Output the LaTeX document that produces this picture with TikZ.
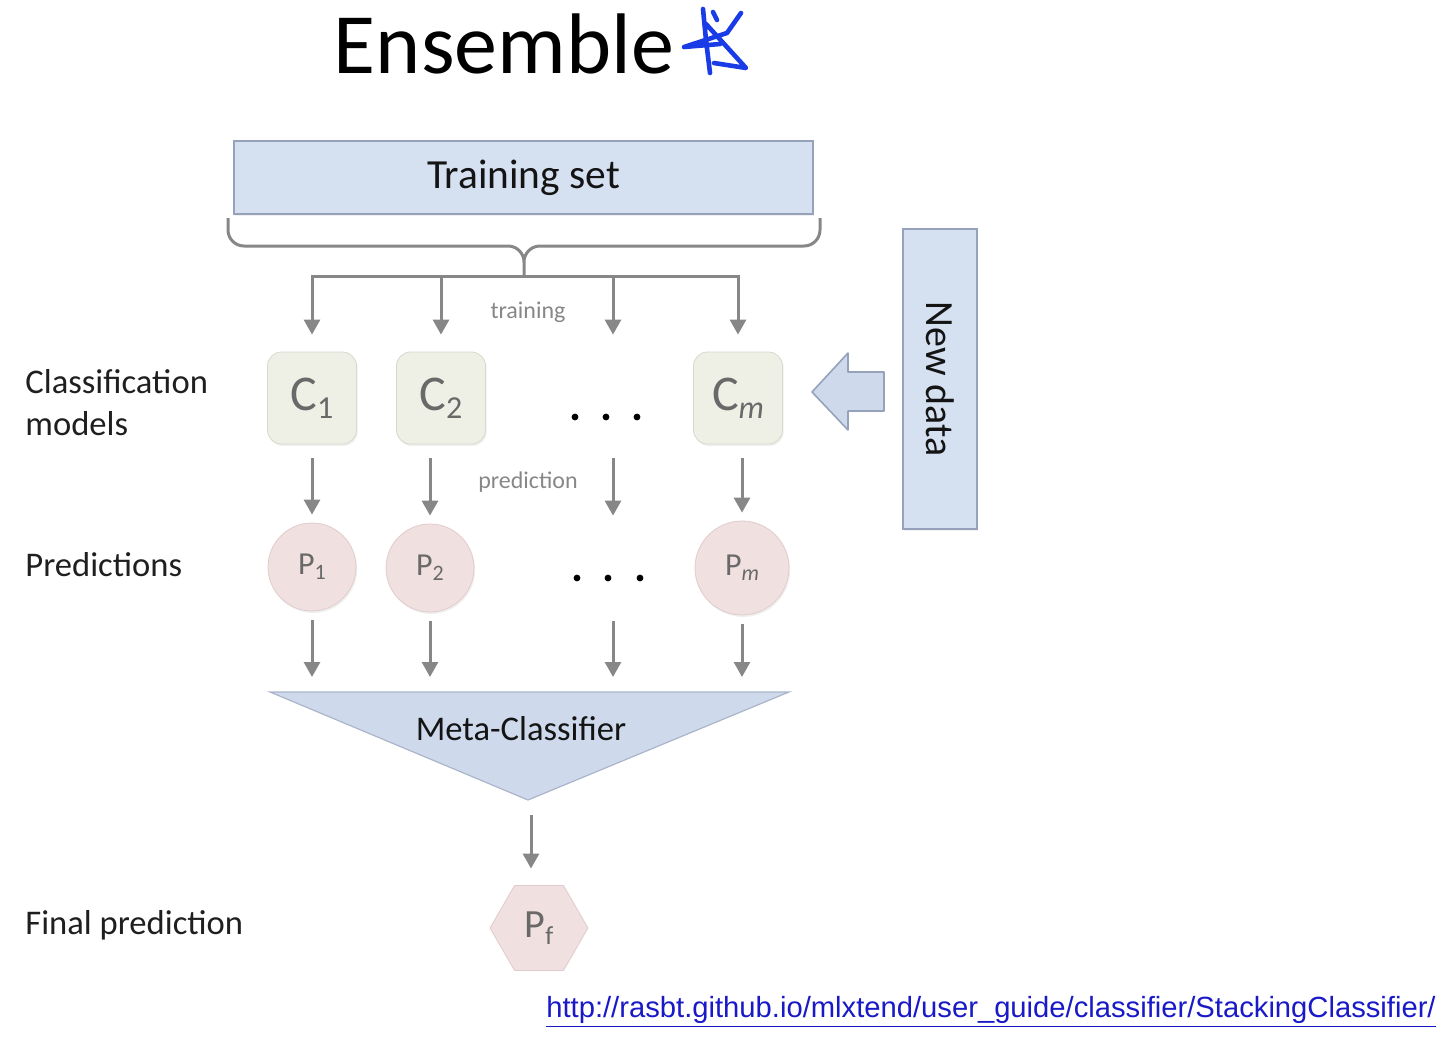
\documentclass[tikz,border=0pt]{standalone}
\usepackage{fontspec}
\setmainfont{Carlito}
\newfontfamily\urlfont{Liberation Sans}
\usetikzlibrary{arrows.meta,shapes.geometric,shadows}
\definecolor{setblue}{RGB}{213,224,241}
\definecolor{setedge}{RGB}{150,162,188}
\definecolor{metafill}{RGB}{206,218,236}
\definecolor{modelfill}{RGB}{238,240,229}
\definecolor{modeledge}{RGB}{214,217,204}
\definecolor{predfill}{RGB}{241,224,224}
\definecolor{prededge}{RGB}{224,204,204}
\definecolor{flowgray}{RGB}{135,135,135}
\definecolor{lettergray}{RGB}{105,105,105}
\definecolor{scribble}{RGB}{25,60,230}
\definecolor{linkblue}{RGB}{25,25,200}
\newcommand{\lowidx}[2]{\raisebox{-0.35ex}{\fontsize{#1}{#1}\selectfont #2}}
\tikzset{
  flow/.style={draw=flowgray, line width=1.5pt},
  arr/.style={flow, -{Triangle[width=8pt,length=7.5pt]}},
  bluebox/.style={draw=setedge, fill=setblue, line width=0.8pt, inner sep=0pt, text=black!92,
    drop shadow={opacity=0.12, shadow xshift=0.6pt, shadow yshift=-0.8pt}},
  model/.style={draw=modeledge, fill=modelfill, rounded corners=7pt, minimum width=44.5pt,
    minimum height=46pt, inner sep=0pt, text=lettergray, font=\fontsize{25}{30}\selectfont,
    drop shadow={opacity=0.12, shadow xshift=0.6pt, shadow yshift=-1pt}},
  slot/.style={minimum width=44.5pt, minimum height=46pt, inner sep=0pt},
  pred/.style={circle, draw=prededge, fill=predfill, minimum size=44pt, inner sep=0pt,
    text=lettergray, font=\fontsize{16}{19}\selectfont,
    drop shadow={opacity=0.12, shadow xshift=0.6pt, shadow yshift=-1pt}},
  pslot/.style={circle, minimum size=44pt, inner sep=0pt},
  rowlabel/.style={anchor=west, align=left, inner sep=0pt, font=\fontsize{17.3}{21}\selectfont, text=black!88},
  note/.style={text=flowgray, font=\fontsize{12}{14}\selectfont},
}
\begin{document}
\begin{tikzpicture}[x=0.5pt,y=-0.5pt]
  \useasboundingbox (0,0) rectangle (1453,1039);
  \node[font=\fontsize{43}{50}\selectfont] (title) at (504,44) {Ensemble};
  \draw[scribble, line width=2.3pt, line cap=round, line join=round]
    (703,9) -- (706,40) -- (710,73) (741,13) -- (727,33) -- (684,47) -- (720,44)
    (706,24) -- (746,68) -- (714,63) (713,12) -- (717,20);
  \node[bluebox, minimum width=289.5pt, minimum height=36.5pt,
    font=\fontsize{20.7}{24}\selectfont] (train) at (523.5,177.5) {Training set};
  \coordinate (split) at (524,276);
  \draw[flow, rounded corners=8pt] (228,218) |- (524,246) -- (split)
    (820,218) |- (524,246) -- (split);
  \node[model] (c1) at (312,398) {C\lowidx{16}{1}};
  \node[model] (c2) at (441,398) {C\lowidx{16}{2}};
  \node[slot] (cd) at (613,398) {};
  \node[model] (cm) at (738,398) {C\lowidx{16}{\itshape m}};
  \node[pred] (p1) at (312,567) {P\lowidx{11}{1}};
  \node[pred] (p2) at (430,568) {P\lowidx{11}{2}};
  \node[pslot] (pd) at (613,568) {};
  \node[pred, minimum size=47pt] (pm) at (742,568) {P\lowidx{11}{\itshape m}};
  \foreach \x in {575,606,637} \fill (\x,417) circle (3.4);
  \foreach \x in {577,608,640} \fill (\x,578) circle (3.4);
  \foreach \c in {c1,c2,cd,cm}
    \draw[arr, line join=miter] (split) -| ([yshift=8.5pt]\c.north);
  \node[note] (ltrain) at (528,312) {training};
  \foreach \c/\p in {c1/p1,c2/p2,cd/pd,cm/pm}
    \draw[arr, shorten <=7pt, shorten >=4pt] (\p.north |- \c.south) -- (\p.north);
  \node[note] (lpred) at (528,482) {prediction};
  \coordinate (mtop) at (528,692);
  \coordinate (mtip) at (531,800);
  \filldraw[fill=metafill, draw=setedge!80, line width=0.6pt] (270,692) -- (789,692) -- (528,800) -- cycle;
  \node[font=\fontsize{17.3}{21}\selectfont, text=black!92] (meta) at (521,729) {Meta-Classifier};
  \foreach \p in {p1,p2,pd,pm}
    \draw[arr, shorten <=4.5pt, shorten >=7.5pt] (\p.south) -- (\p.south |- mtop);
  \node[regular polygon, regular polygon sides=6, minimum size=49pt, inner sep=0pt,
    fill=predfill, draw=prededge, text=lettergray, font=\fontsize{20}{24}\selectfont] (pf) at (539,928) {P\lowidx{13}{f}};
  \draw[arr, shorten <=7.5pt, shorten >=8.3pt] (mtip) -- (mtip |- pf.north);
  \node[bluebox, rotate=-90, minimum width=150pt, minimum height=37pt,
    font=\fontsize{20}{24}\selectfont] (newdata) at (940,379) {New data};
  \filldraw[fill=metafill, draw=setedge, line width=0.8pt, line join=round]
    (812,392) -- (848,353) -- (848,372) -- (884,372) -- (884,411) -- (848,411) -- (848,430) -- cycle;
  \node[rowlabel] (lmodels) at (25,403) {Classification\\models};
  \node[rowlabel] (lpreds) at (25,565) {Predictions};
  \node[rowlabel] (lfinal) at (25,925) {Final prediction};
  \node[font=\urlfont\fontsize{14.6}{17}\selectfont, text=linkblue] (link) at (991,1012)
    {\underline{http://rasbt.github.io/mlxtend/user\_guide/classifier/StackingClassifier/}};
\end{tikzpicture}
\end{document}
